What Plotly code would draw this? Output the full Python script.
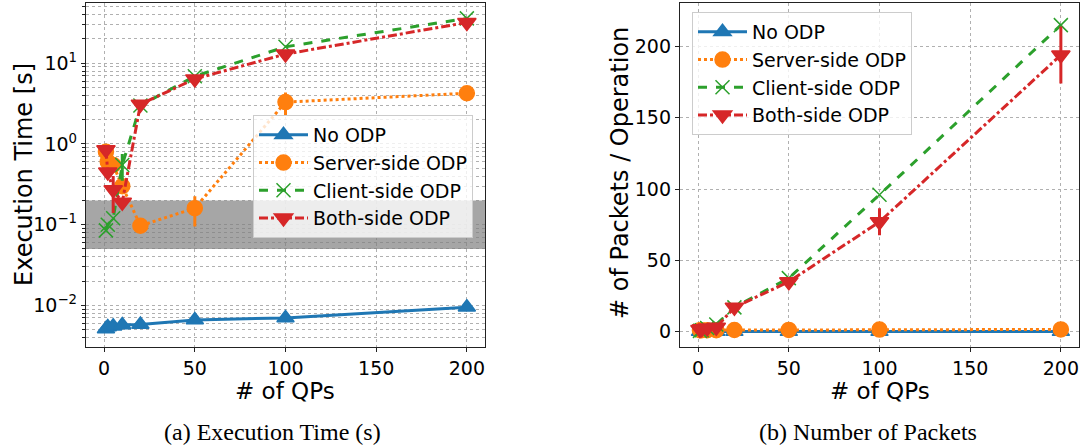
import plotly.graph_objects as go

# Number of queue pairs (shared x values)
qps = [1, 2, 5, 10, 20, 50, 100, 200]

# (a) Execution time in seconds
time_no_odp = [0.0051, 0.0054, 0.0055, 0.0057, 0.0058, 0.0066, 0.0070, 0.0095]
time_server = [0.80, 0.60, 0.55, 0.30, 0.097, 0.16, 3.3, 4.25]
time_server_err = [0, 0, 0, 0, 0, 0.065, 1.05, 0]
time_client = [0.085, 0.10, 0.12, 0.55, 3.0, 6.9, 16.0, 36.0]
time_client_err = [0, 0, 0, 0.2, 0, 0, 0, 0]
time_both = [0.85, 0.45, 0.27, 0.19, 3.1, 6.4, 13.0, 32.0]
time_both_err = [0, 0, 0.13, 0, 0, 0, 0, 0]

# Shaded region of the execution-time plot
band_low, band_high = 0.05, 0.2

# (b) Packets per operation
pkt_no_odp = [0, 0, 0, 0, 0, 0, 0, 0]
pkt_server = [1.0, 1.0, 1.0, 1.0, 1.1, 1.2, 1.4, 1.5]
pkt_client = [0.5, 1.0, 2.5, 5.0, 17.0, 37.5, 96.0, 215.0]
pkt_both = [1.5, 2.0, 2.5, 3.0, 17.0, 35.0, 77.0, 194.0]
pkt_both_err = [0, 0, 0, 0, 0, 0, 9.5, 20.0]

series_names = ["No ODP", "Server-side ODP", "Client-side ODP", "Both-side ODP"]
colors = ["#1f77b4", "#ff7f0e", "#2ca02c", "#d62728"]
dashes = ["solid", "dot", "dash", "dashdot"]
symbols = ["triangle-up", "circle", "x-thin-open", "triangle-down"]
sizes = [15, 15, 14, 16]

FONT = "DejaVu Sans"
GRID = "#b0b0b0"

fig = go.Figure()

# grey band across the whole x range
fig.add_trace(go.Scatter(
    x=[-10, 210, 210, -10, -10],
    y=[band_low, band_low, band_high, band_high, band_low],
    mode="none", fill="toself", fillcolor="rgba(128,128,128,0.7)",
    showlegend=False, hoverinfo="skip", xaxis="x", yaxis="y"))


def add_series(ys, errs, idx, xa, ya, legend, group):
    err = None
    if errs is not None and any(errs):
        err = dict(type="data", array=errs, visible=True, color=colors[idx],
                   thickness=3, width=0)
    fig.add_trace(go.Scatter(
        x=qps, y=ys, name=series_names[idx], mode="lines+markers",
        line=dict(color=colors[idx], width=3, dash=dashes[idx]),
        marker=dict(symbol=symbols[idx], size=sizes[idx], color=colors[idx],
                    line=dict(color=colors[idx], width=1.5)),
        error_y=err, xaxis=xa, yaxis=ya, legend=legend, legendgroup=group))


left = [(time_no_odp, None), (time_server, time_server_err),
        (time_client, time_client_err), (time_both, time_both_err)]
right = [(pkt_no_odp, None), (pkt_server, None),
         (pkt_client, None), (pkt_both, pkt_both_err)]
for i, (ys, e) in enumerate(left):
    add_series(ys, e, i, "x", "y", "legend", f"a{i}")
for i, (ys, e) in enumerate(right):
    add_series(ys, e, i, "x2", "y2", "legend2", f"b{i}")

W, H = 1081, 447
ydom = [1 - 346.7 / H, 1 - 3.3 / H]

axis_common = dict(
    showline=True, linecolor="#222", linewidth=1.3, mirror=True,
    ticks="outside", ticklen=4, tickwidth=1.2, tickcolor="#222",
    showgrid=True, gridcolor=GRID, griddash="dot", gridwidth=1,
    zeroline=False, tickfont=dict(family=FONT, size=19, color="black"),
)

minor_vals = [k * 10 ** e for e in range(-3, 2) for k in range(2, 10)]

legend_common = dict(
    xanchor="left", yanchor="top", bgcolor="rgba(255,255,255,0.8)",
    bordercolor="#cccccc", borderwidth=1,
    font=dict(family=FONT, size=19, color="black"),
    tracegroupgap=0, itemwidth=49)

fig.update_layout(
    width=W, height=H, margin=dict(l=0, r=0, t=0, b=0),
    paper_bgcolor="white", plot_bgcolor="white",
    font=dict(family=FONT, color="black"),
    xaxis=dict(domain=[86 / W, 485 / W], range=[-10, 210],
               tickvals=[0, 50, 100, 150, 200], anchor="y", **axis_common),
    yaxis=dict(domain=ydom, type="log", range=[-2.512, 1.743],
               tickvals=[0.01, 0.1, 1, 10],
               ticktext=["10<sup>\u22122</sup>", "10<sup>\u22121</sup>",
                         "10<sup>0</sup>", "10<sup>1</sup>"],
               minor=dict(tickmode="array", tickvals=minor_vals, ticks="outside",
                          ticklen=2.5, tickcolor="#222", showgrid=True,
                          gridcolor=GRID, griddash="dot", gridwidth=1),
               anchor="x", **axis_common),
    xaxis2=dict(domain=[680 / W, 1079 / W], range=[-10, 210],
                tickvals=[0, 50, 100, 150, 200], anchor="y2", **axis_common),
    yaxis2=dict(domain=ydom, range=[-10.6, 230.3],
                tickvals=[0, 50, 100, 150, 200], anchor="x2", **axis_common),
    legend=dict(x=253 / W, y=1 - 115 / H, **legend_common),
    legend2=dict(x=692 / W, y=1 - 12 / H, **legend_common),
    showlegend=True,
)

annots = [
    dict(text="Execution Time [s]", x=24 / W, y=1 - 175 / H, textangle=-90,
         font=dict(family=FONT, size=24)),
    dict(text="# of QPs", x=285 / W, y=1 - 391 / H, font=dict(family=FONT, size=23)),
    dict(text="# of Packets / Operation", x=620 / W, y=1 - 173 / H, textangle=-90,
         font=dict(family=FONT, size=24)),
    dict(text="# of QPs", x=880 / W, y=1 - 391 / H, font=dict(family=FONT, size=23)),
    dict(text="(a) Execution Time (s)", x=272 / W, y=1 - 432 / H,
         font=dict(family="Liberation Serif", size=24)),
    dict(text="(b) Number of Packets", x=868 / W, y=1 - 432 / H,
         font=dict(family="Liberation Serif", size=24)),
]
for a in annots:
    fig.add_annotation(xref="paper", yref="paper", showarrow=False,
                       xanchor="center", yanchor="middle", **a)

fig.write_html("out.html")
